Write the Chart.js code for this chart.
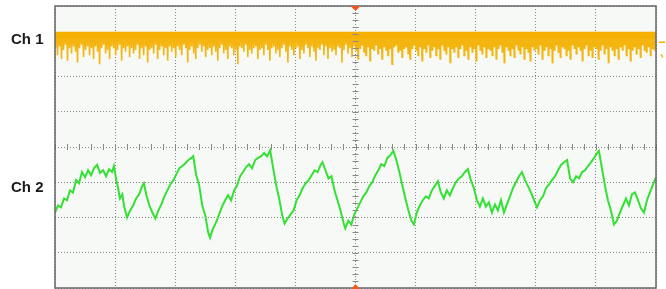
<html>
  <head>
    <title>Oscilloscope capture Ch 1 / Ch 2</title>
    <script src="https://cdn.jsdelivr.net/npm/chart.js@4.4.1/dist/chart.umd.min.js"></script>
    <style>
      body { margin: 0; background: #fff; }
      #wrap { width: 666px; height: 289px; }
    </style>
  </head>
  <body>
    <div id="wrap"><canvas id="scope"></canvas></div>
    <script>
      // screen is 10 x 8 divisions, values below are in divisions
      var ch1Top = 3.25;
      var ch1BandBottom = 3.08;
      var ch1Low = [
        2.8,2.6,2.85,2.5,2.75,2.9,2.45,2.8,2.65,2.85,2.7,2.4,2.8,2.9,2.55,2.75,2.85,2.6,2.8,2.5,
        2.85,2.7,2.35,2.8,2.9,2.65,2.75,2.5,2.85,2.8,2.6,2.75,2.9,2.45,2.8,2.7,2.85,2.55,2.8,2.65,
        2.75,2.9,2.5,2.8,2.6,2.85,2.4,2.75,2.8,2.65,2.9,2.5,2.75,2.85,2.6,2.8,2.45,2.85,2.7,2.8,
        2.55,2.85,2.75,2.6,2.9,2.8,2.4,2.75,2.85,2.65,2.5,2.8,2.9,2.7,2.85,2.55,2.75,2.8,2.6,2.85,
        2.7,2.45,2.8,2.9,2.65,2.75,2.5,2.85,2.8,2.6,2.75,2.35,2.85,2.8,2.7,2.9,2.55,2.75,2.65,2.8,
        2.85,2.5,2.75,2.8,2.6,2.9,2.75,2.45,2.8,2.85,2.65,2.75,2.55,2.8,2.9,2.7,2.4,2.85,2.75,2.6,
        2.8,2.85,2.5,2.75,2.65,2.9,2.8,2.55,2.85,2.7,2.45,2.8,2.75,2.9,2.6,2.85,2.5,2.8,2.7,2.75,
        2.6,2.85,2.8,2.4,2.75,2.9,2.65,2.8,2.55,2.85,2.75,2.5,2.8,2.9,2.7,2.6,2.85,2.45,2.8,2.75,
        2.9,2.65,2.8,2.5,2.85,2.75,2.6,2.8,2.35,2.85,2.9,2.7,2.75,2.55,2.8,2.85,2.65,2.5,2.8,2.9,
        2.75,2.6,2.85,2.45,2.8,2.7,2.9,2.55,2.75,2.85,2.6,2.8,2.5,2.9,2.75,2.65,2.85,2.4,2.8,2.7,
        2.85,2.55,2.8,2.9,2.6,2.75,2.5,2.85,2.7,2.8,2.45,2.9,2.75,2.65,2.85,2.55,2.8,2.75,2.6,2.85,
        2.5,2.8,2.9,2.7,2.4,2.85,2.75,2.6,2.8,2.55,2.9,2.75,2.65,2.85,2.5,2.8,2.7,2.45,2.85,2.75,
        2.8,2.65,2.9,2.5,2.75,2.85,2.6,2.8,2.4,2.75,2.9,2.7,2.55,2.85,2.8,2.6,2.75,2.5,2.9,2.8,
        2.65,2.85,2.75,2.45,2.8,2.9,2.6,2.75,2.55,2.85,2.8,2.5,2.75,2.9,2.65,2.8,2.4,2.85,2.75,2.6,
        2.8,2.5,2.85,2.75,2.9,2.6,2.8,2.45,2.75,2.85,2.65,2.8,2.55,2.9,2.75,2.7,2.85,2.6,2.8,2.75
      ];

      var ch2Time = [
        0.00,0.05,0.10,0.15,0.20,0.25,0.30,0.35,0.40,0.45,0.50,0.55,0.60,0.65,0.70,0.75,0.80,0.85,0.90,0.95,
        0.98,1.02,1.05,1.08,1.12,1.15,1.20,1.25,1.30,1.35,1.40,1.45,1.48,1.52,1.57,1.62,1.67,1.72,1.77,1.82,
        1.87,1.92,1.97,2.02,2.07,2.12,2.17,2.22,2.27,2.30,2.35,2.40,2.45,2.50,2.55,2.58,2.63,2.68,2.73,2.78,
        2.83,2.88,2.93,2.98,3.03,3.08,3.13,3.18,3.23,3.28,3.33,3.38,3.43,3.48,3.53,3.58,3.63,3.68,3.73,3.78,
        3.82,3.87,3.92,3.97,4.02,4.07,4.12,4.17,4.22,4.27,4.32,4.37,4.42,4.45,4.50,4.55,4.60,4.65,4.70,4.75,
        4.80,4.83,4.88,4.93,4.98,5.03,5.08,5.13,5.18,5.23,5.28,5.33,5.38,5.43,5.48,5.53,5.58,5.63,5.68,5.73,
        5.78,5.83,5.88,5.93,5.97,6.02,6.07,6.12,6.17,6.22,6.27,6.32,6.37,6.42,6.47,6.52,6.57,6.62,6.67,6.72,
        6.77,6.82,6.87,6.92,6.97,7.02,7.07,7.12,7.17,7.22,7.27,7.32,7.37,7.42,7.47,7.52,7.57,7.62,7.67,7.72,
        7.77,7.82,7.87,7.92,7.97,8.02,8.07,8.12,8.17,8.22,8.27,8.32,8.37,8.42,8.47,8.52,8.57,8.62,8.67,8.72,
        8.77,8.82,8.87,8.92,8.97,9.02,9.05,9.10,9.15,9.20,9.25,9.30,9.35,9.40,9.45,9.50,9.55,9.60,9.65,9.70,
        9.75,9.80,9.85,9.90,9.95,10.00
      ];
      var ch2Volts = [
        -1.86,-1.66,-1.71,-1.46,-1.51,-1.23,-1.29,-0.94,-1.03,-0.71,-0.86,-0.66,-0.80,-0.60,-0.51,-0.74,-0.66,-0.83,-0.63,-0.71,
        -0.54,-0.94,-1.17,-1.46,-1.34,-1.69,-2.00,-1.80,-1.66,-1.46,-1.34,-1.11,-1.03,-1.37,-1.66,-1.86,-2.03,-1.80,-1.63,-1.40,
        -1.23,-1.06,-0.94,-0.77,-0.60,-0.54,-0.46,-0.37,-0.31,-0.26,-0.80,-1.09,-1.66,-1.94,-2.43,-2.57,-2.31,-2.14,-1.91,-1.69,
        -1.51,-1.37,-1.51,-1.23,-1.09,-0.83,-0.71,-0.57,-0.49,-0.60,-0.37,-0.31,-0.26,-0.17,-0.26,-0.09,-0.60,-1.09,-1.46,-1.94,
        -2.17,-2.03,-1.91,-1.80,-1.51,-1.37,-1.17,-1.03,-0.94,-0.80,-0.66,-0.71,-0.51,-0.43,-0.66,-0.89,-0.83,-1.23,-1.51,-1.80,
        -2.14,-2.31,-2.09,-2.20,-1.91,-1.74,-1.57,-1.40,-1.29,-1.11,-1.00,-0.80,-0.66,-0.49,-0.54,-0.31,-0.23,-0.11,-0.37,-0.71,
        -1.09,-1.46,-1.80,-2.09,-2.20,-1.86,-1.66,-1.51,-1.40,-1.46,-1.23,-1.11,-0.97,-1.29,-1.46,-1.23,-1.37,-1.17,-1.00,-0.89,
        -0.83,-0.71,-0.63,-0.94,-1.17,-1.51,-1.69,-1.46,-1.69,-1.57,-1.86,-1.63,-1.80,-1.51,-1.86,-1.63,-1.40,-1.17,-1.00,-0.83,
        -0.71,-0.94,-1.11,-1.29,-1.51,-1.71,-1.51,-1.40,-1.17,-1.06,-0.94,-0.83,-0.66,-0.51,-0.43,-0.37,-0.89,-1.00,-0.83,-0.89,
        -0.71,-0.66,-0.54,-0.43,-0.31,-0.17,-0.11,-0.60,-1.09,-1.51,-1.80,-2.20,-2.09,-1.86,-1.66,-1.46,-1.66,-1.34,-1.29,-1.51,
        -1.74,-1.86,-1.51,-1.29,-1.06,-0.86
      ];

      var channelLabels = ['Ch 1', 'Ch 2'];
      var channelLabelLevels = [3.05, -1.15];
      var ch1Markers = [2.97, 2.57];

      // ch1 trace: clipped top, near-vertical spikes down to each low value
      var ch1Points = [];
      var step = 10 / ch1Low.length;
      ch1Low.forEach(function(v, i) {
        ch1Points.push({x: i * step, y: ch1Top});
        ch1Points.push({x: i * step + step * 0.25, y: v});
        ch1Points.push({x: i * step + step * 0.5, y: ch1Top});
      });
      var ch1BandTop = [{x: 0, y: ch1Top}, {x: 10, y: ch1Top}];
      var ch1BandLow = [{x: 0, y: ch1BandBottom}, {x: 10, y: ch1BandBottom}];
      var ch2Points = ch2Time.map(function(t, i) { return {x: t, y: ch2Volts[i]}; });

      var screenPlugin = {
        id: 'screen',
        beforeDraw: function(chart) {
          var a = chart.chartArea, ctx = chart.ctx;
          ctx.save();
          ctx.fillStyle = '#f6f9f5';
          ctx.fillRect(a.left, a.top, a.right - a.left, a.bottom - a.top);
          ctx.restore();
        },
        afterDatasetsDraw: function(chart) {
          var a = chart.chartArea, ctx = chart.ctx;
          var xs = chart.scales.x, ys = chart.scales.y;
          var cx = xs.getPixelForValue(5), cy = ys.getPixelForValue(0);
          ctx.save();
          // minor ticks on the centre lines
          ctx.strokeStyle = '#888';
          ctx.lineWidth = 1;
          ctx.beginPath();
          for (var v = -4; v <= 4.001; v += 0.2) {
            var py = Math.round(ys.getPixelForValue(v)) + 0.5;
            ctx.moveTo(cx - 3, py); ctx.lineTo(cx + 3, py);
          }
          for (var u = 0; u <= 10.001; u += 0.2) {
            var px = Math.round(xs.getPixelForValue(u)) + 0.5;
            ctx.moveTo(px, cy - 3); ctx.lineTo(px, cy + 3);
          }
          ctx.stroke();
          // frame
          ctx.strokeStyle = '#666';
          ctx.lineWidth = 1.5;
          ctx.strokeRect(a.left, a.top, a.right - a.left, a.bottom - a.top);
          // trigger position triangles
          ctx.fillStyle = '#f0581c';
          ctx.beginPath();
          ctx.moveTo(cx - 5, a.top); ctx.lineTo(cx + 5, a.top); ctx.lineTo(cx, a.top + 5);
          ctx.closePath(); ctx.fill();
          ctx.beginPath();
          ctx.moveTo(cx - 5, a.bottom + 2); ctx.lineTo(cx + 5, a.bottom + 2); ctx.lineTo(cx, a.bottom - 4);
          ctx.closePath(); ctx.fill();
          // ch1 level markers at the right edge
          ctx.strokeStyle = '#f5b000';
          ctx.lineWidth = 1.5;
          ctx.beginPath();
          var m1 = ys.getPixelForValue(ch1Markers[0]);
          ctx.moveTo(a.right + 3, m1); ctx.lineTo(a.right + 9, m1);
          var m2 = ys.getPixelForValue(ch1Markers[1]);
          ctx.moveTo(a.right + 5, m2 - 2); ctx.lineTo(a.right + 7, m2 + 1);
          ctx.stroke();
          // channel labels
          ctx.fillStyle = '#1a1a1a';
          ctx.font = 'bold 15px "Liberation Sans", Arial, sans-serif';
          ctx.textBaseline = 'middle';
          channelLabels.forEach(function(t, i) {
            ctx.fillText(t, 11, ys.getPixelForValue(channelLabelLevels[i]));
          });
          ctx.restore();
        }
      };

      new Chart('scope', {
        type: 'line',
        data: {
          datasets: [
            {
              label: 'Ch 1 band',
              data: ch1BandTop,
              borderColor: '#f5b000',
              backgroundColor: '#f5b000',
              borderWidth: 1,
              pointRadius: 0,
              fill: '+1'
            },
            {
              label: 'Ch 1 band low',
              data: ch1BandLow,
              borderColor: '#f5b000',
              borderWidth: 0,
              pointRadius: 0,
              fill: false
            },
            {
              label: 'Ch 1',
              data: ch1Points,
              borderColor: '#f5b510',
              borderWidth: 1.6,
              pointRadius: 0,
              tension: 0
            },
            {
              label: 'Ch 2',
              data: ch2Points,
              borderColor: '#35e035',
              borderWidth: 2,
              pointRadius: 0,
              tension: 0
            }
          ]
        },
        options: {
          responsive: true,
          maintainAspectRatio: false,
          animation: false,
          layout: { padding: { left: 55, right: 10, top: 6, bottom: 1 } },
          plugins: { legend: { display: false }, tooltip: { enabled: false } },
          scales: {
            x: {
              type: 'linear', min: 0, max: 10,
              ticks: { display: false, stepSize: 1 },
              grid: { color: '#8a8a8a', drawTicks: false, lineWidth: 1 },
              border: { display: false, dash: [1, 2] }
            },
            y: {
              min: -4, max: 4,
              ticks: { display: false, stepSize: 1 },
              grid: { color: '#8a8a8a', drawTicks: false, lineWidth: 1 },
              border: { display: false, dash: [1, 2] }
            }
          }
        },
        plugins: [screenPlugin]
      });
    </script>
  </body>
</html>
